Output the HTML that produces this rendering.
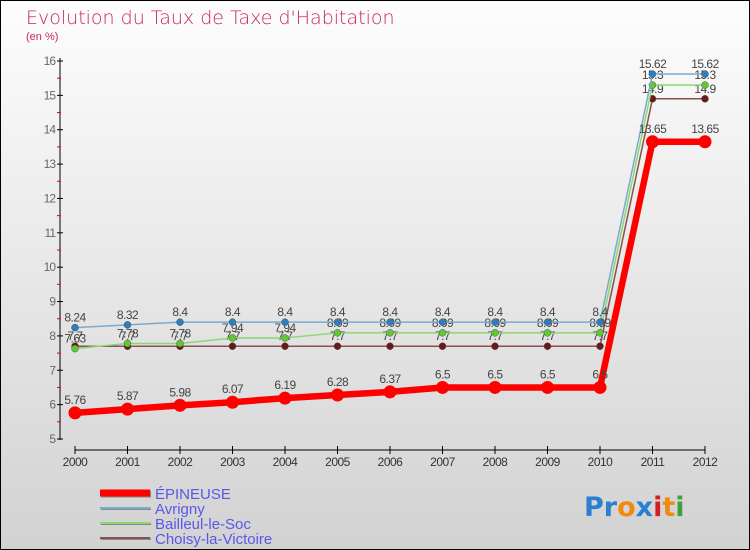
<!DOCTYPE html>
<html><head><meta charset="utf-8"><style>
body{margin:0}
#c{width:750px;height:550px;position:relative;overflow:hidden;background:linear-gradient(#fdfdfd,#d2d2d2);font-family:"Liberation Sans",sans-serif}
</style></head><body>
<div id="c">
<svg id="s" width="750" height="550" xmlns="http://www.w3.org/2000/svg">
<rect x="0.5" y="0.5" width="749" height="549" fill="none" stroke="#000"/>
<text x="26" y="24" font-size="19" fill="#c8285a" font-family="DejaVu Sans,sans-serif" font-weight="200">Evolution du Taux de Taxe d'Habitation</text>
<text x="26" y="40" font-size="11" fill="#c8285a">(en %)</text>
<g id="axes"></g><g id="series"></g><g id="legend"></g>
<g font-size="27" font-weight="bold" font-family="DejaVu Sans,sans-serif">
<text x="584" y="516"><tspan fill="#2a7fd0">Pr</tspan><tspan fill="#f08a10">o</tspan><tspan fill="#2a7fd0">x</tspan><tspan fill="#d02020">i</tspan><tspan fill="#f08a10">t</tspan><tspan fill="#40a040">i</tspan></text>
</g>
</svg></div>
<script>
const years=[2000,2001,2002,2003,2004,2005,2006,2007,2008,2009,2010,2011,2012];
const epineuse=[5.76,5.87,5.98,6.07,6.19,6.28,6.37,6.5,6.5,6.5,6.5,13.65,13.65];
const avrigny=[8.24,8.32,8.4,8.4,8.4,8.4,8.4,8.4,8.4,8.4,8.4,15.62,15.62];
const bailleul=[7.63,7.78,7.78,7.94,7.94,8.09,8.09,8.09,8.09,8.09,8.09,15.3,15.3];
const choisy=[7.7,7.7,7.7,7.7,7.7,7.7,7.7,7.7,7.7,7.7,7.7,14.9,14.9];
const yTicks=[5,6,7,8,9,10,11,12,13,14,15,16];
const names=["ÉPINEUSE","Avrigny","Bailleul-le-Soc","Choisy-la-Victoire"];
const NS="http://www.w3.org/2000/svg";
const X=i=>75+i*52.5, Y=v=>439-(v-5)*34.364;
function mk(t,a,p){const e=document.createElementNS(NS,t);for(const k in a)e.setAttribute(k,a[k]);p.appendChild(e);return e;}
const ax=document.getElementById('axes');
let l=mk('line',{x1:60,y1:58,x2:60,y2:440,stroke:'#000'},ax);


yTicks.forEach(v=>{
 mk('line',{x1:57,x2:63,y1:Y(v),y2:Y(v),stroke:'#000'},ax);
 if(v<16) mk('line',{x1:57,x2:61,y1:Y(v+0.5),y2:Y(v+0.5),stroke:'#e00'},ax);
 const t=mk('text',{x:55,y:Y(v)+4,'font-size':12,fill:'#666','text-anchor':'end','letter-spacing':'-1'},ax);t.textContent=v;
 
 
});
l=mk('line',{x1:75,y1:450,x2:705,y2:450,stroke:'#000'},ax);


years.forEach((y,i)=>{
 mk('line',{x1:X(i),x2:X(i),y1:446,y2:454,stroke:'#000'},ax);
 const t=mk('text',{x:X(i),y:466,'font-size':12,fill:'#333','text-anchor':'middle','letter-spacing':'-0.5'},ax);t.textContent=y;
 
 
});
const sg=document.getElementById('series');
const defs=[[avrigny,'#7aaad0','#2a7fc0',1.5,3.5,'avrigny'],[bailleul,'#8ad870','#60c830',1.5,3.5,'bailleul-le-soc'],[choisy,'#8a5050','#6a1818',1.5,3.5,'choisy-la-victoire'],[epineuse,'#f00','#f00',6.5,6.5,'epineuse']];
[defs[2],defs[1],defs[0],defs[3]].forEach(d=>{
 const [arr,lc,pc,w,r,n]=d;
 const g=mk('g',{},sg);
 
 
 const p=mk('polyline',{points:arr.map((v,i)=>X(i)+','+Y(v)).join(' '),fill:'none',stroke:lc,'stroke-width':w},g);
 
 
 arr.forEach((v,i)=>{
  const c=mk('circle',{cx:X(i),cy:Y(v),r:r,fill:pc,stroke:n==='epineuse'?'none':'#555','stroke-width':0.5},g);
  
  
  const t=mk('text',{x:X(i),y:Y(v)-(n==='epineuse'?9:6),'font-size':12,fill:'#444','text-anchor':'middle','letter-spacing':'-0.5'},g);t.textContent=v;
  
  
 });
});
const lg=document.getElementById('legend');
const lcol=['#f00','#7aaad0','#8ad870','#8a5050'],lw=[7,2,2,2];
names.forEach((n,i)=>{
 const y=493+i*15;
 const g=mk('g',{},lg);
 
 
 mk('line',{x1:101,x2:151,y1:y+1,y2:y+1,stroke:'#888','stroke-width':lw[i]},g);
 mk('line',{x1:100,x2:150,y1:y,y2:y,stroke:lcol[i],'stroke-width':lw[i]},g);
 const t=mk('text',{x:155,y:y+6,'font-size':15,fill:'#5858e8'},g);t.textContent=n;
});
</script></body></html>
